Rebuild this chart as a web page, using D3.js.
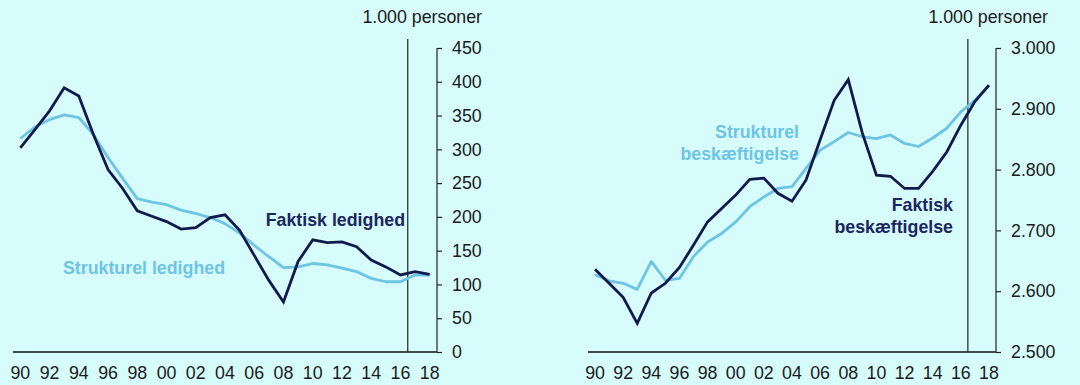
<!DOCTYPE html>
<html>
<head>
<meta charset="utf-8">
<script src="https://cdn.jsdelivr.net/npm/d3@7"></script>
<style>
  html, body { margin: 0; padding: 0; background: #d7fcfc; }
  svg { display: block; font-family: "Liberation Sans", Arial, sans-serif; }
</style>
</head>
<body>
<svg id="chart" width="1080" height="385"></svg>
<script>
// Years 1990-2018
const years = d3.range(1990, 2019);

// Unemployment, 1.000 persons
const faktiskLedighed = [302, 329, 357, 391, 379, 322, 270, 242, 209, 201, 193, 182, 184, 199, 203, 180, 143, 106, 74, 134, 166, 162, 163, 156, 136, 126, 114, 119, 115];
const strukturelLedighed = [316, 333, 344, 351, 347, 322, 288, 257, 227, 222, 218, 210, 205, 199, 190, 176, 158, 141, 125, 126, 131, 129, 124, 119, 109, 104, 104, 114, 114];

// Employment, 1.000 persons
const faktiskBeskaeftigelse = [2636, 2613, 2590, 2547, 2597, 2613, 2639, 2676, 2714, 2736, 2758, 2784, 2786, 2761, 2748, 2783, 2849, 2914, 2948, 2860, 2791, 2789, 2769, 2769, 2797, 2829, 2873, 2912, 2939];
const strukturelBeskaeftigelse = [2627, 2617, 2613, 2603, 2649, 2618, 2621, 2657, 2681, 2695, 2714, 2739, 2755, 2769, 2772, 2802, 2832, 2846, 2861, 2854, 2851, 2857, 2843, 2838, 2852, 2868, 2895, 2914, 2938];

// Axis ticks
const ledighedTicks = [0, 50, 100, 150, 200, 250, 300, 350, 400, 450];
const beskaeftigelseTicks = [2500, 2600, 2700, 2800, 2900, 3000];
const yearTicks = years.filter(y => y % 2 === 0);
const unitLabel = "1.000 personer";
const forecastStart = 2017;

const dkLocale = d3.formatLocale({ decimal: ",", thousands: ".", grouping: [3], currency: ["", ""] });
const fmtThousands = dkLocale.format(",d");

const DARK = "#12194d";
const LIGHT = "#6ec4e3";
const FONT_SIZE = 17.8;

const svg = d3.select("#chart");

function drawPanel(cfg) {
  const g = svg.append("g");
  const x = d3.scaleBand().domain(years).range([cfg.x0, cfg.x1]).padding(0);
  const y = d3.scaleLinear().domain(cfg.domain).range([352, 48]);
  const cx = yr => x(yr) + x.bandwidth() / 2;

  // baseline
  g.append("line")
    .attr("x1", cfg.x0).attr("x2", cfg.x1)
    .attr("y1", y(cfg.domain[0])).attr("y2", y(cfg.domain[0]))
    .attr("stroke", "#111").attr("stroke-width", 1.5);

  // forecast divider
  const xd = x(forecastStart);
  g.append("line")
    .attr("x1", xd).attr("x2", xd)
    .attr("y1", 39).attr("y2", y(cfg.domain[0]))
    .attr("stroke", "#222").attr("stroke-width", 1.2);

  // y axis on the right
  const yAxis = d3.axisRight(y).tickValues(cfg.ticks).tickSize(5).tickPadding(10)
    .tickFormat(fmtThousands);
  const ya = g.append("g").attr("transform", `translate(${cfg.x1},0)`).call(yAxis);
  ya.select(".domain").attr("d", `M0,${y(cfg.domain[1])}V${y(cfg.domain[0])}`)
    .attr("stroke", "#222").attr("stroke-width", 1.2);
  ya.selectAll(".tick line").attr("stroke", "#222").attr("stroke-width", 1.2);
  ya.selectAll(".tick text").attr("font-size", FONT_SIZE).attr("fill", "#1a1a1a")
    .attr("font-family", "Liberation Sans, Arial, sans-serif");

  // year labels
  g.selectAll("text.year").data(yearTicks).join("text")
    .attr("class", "year")
    .attr("x", d => cx(d)).attr("y", 379)
    .attr("text-anchor", "middle").attr("font-size", FONT_SIZE).attr("fill", "#1a1a1a")
    .text(d => String(d % 100).padStart(2, "0"));

  // unit label
  g.append("text")
    .attr("x", cfg.unitX).attr("y", 23).attr("text-anchor", "end")
    .attr("font-size", FONT_SIZE).attr("fill", "#1a1a1a").text(unitLabel);

  const line = d3.line().x((d, i) => cx(years[i])).y(d => y(d));

  g.append("path").datum(cfg.light).attr("d", line)
    .attr("fill", "none").attr("stroke", LIGHT).attr("stroke-width", 2.8)
    .attr("stroke-linejoin", "round");
  g.append("path").datum(cfg.dark).attr("d", line)
    .attr("fill", "none").attr("stroke", DARK).attr("stroke-width", 2.8)
    .attr("stroke-linejoin", "miter");

  cfg.labels.forEach(l => {
    const t = g.append("text")
      .attr("x", l.x).attr("y", l.y).attr("text-anchor", l.anchor)
      .attr("font-size", FONT_SIZE).attr("font-weight", "bold").attr("fill", l.color);
    l.lines.forEach((s, i) => {
      t.append("tspan").attr("x", l.x).attr("dy", i === 0 ? 0 : 22).text(s);
    });
  });
}

drawPanel({
  x0: 13, x1: 437, domain: [0, 450], ticks: ledighedTicks, unitX: 482,
  dark: faktiskLedighed, light: strukturelLedighed,
  labels: [
    { x: 405, y: 226, anchor: "end", color: "#1b2560", lines: ["Faktisk ledighed"] },
    { x: 63, y: 274, anchor: "start", color: LIGHT, lines: ["Strukturel ledighed"] }
  ]
});

drawPanel({
  x0: 588, x1: 996, domain: [2500, 3000], ticks: beskaeftigelseTicks, unitX: 1048,
  dark: faktiskBeskaeftigelse, light: strukturelBeskaeftigelse,
  labels: [
    { x: 799, y: 138, anchor: "end", color: LIGHT, lines: ["Strukturel", "beskæftigelse"] },
    { x: 953, y: 211, anchor: "end", color: "#1b2560", lines: ["Faktisk", "beskæftigelse"] }
  ]
});
</script>
</body>
</html>
